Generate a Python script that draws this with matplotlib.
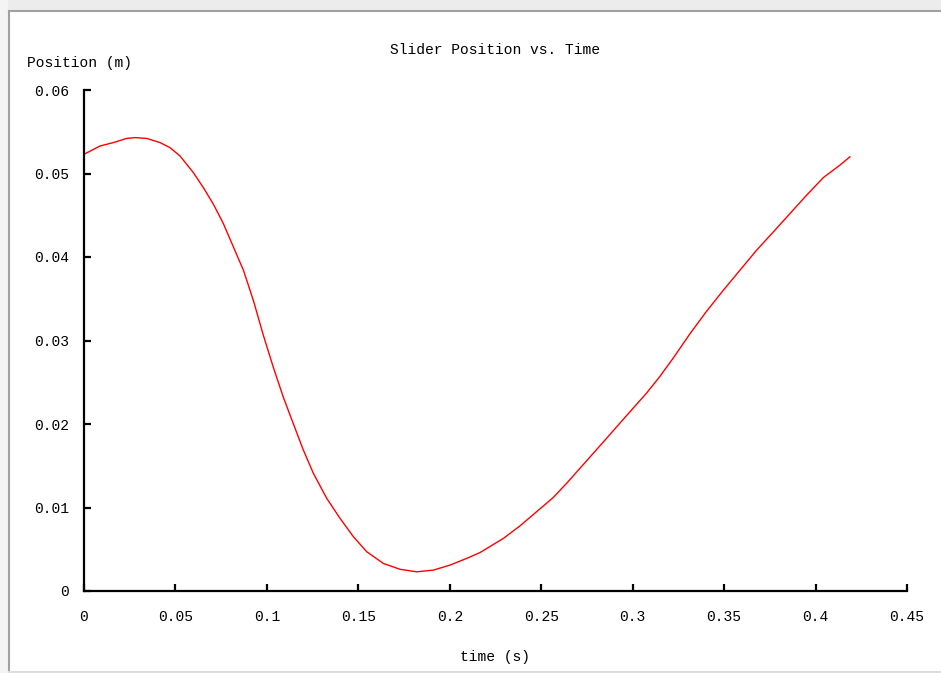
import matplotlib.pyplot as plt
from matplotlib.lines import Line2D
from matplotlib.patches import Rectangle

# slider position samples (s, m)
time_s = [0, 0.0088, 0.0160, 0.0233, 0.0279, 0.0343, 0.0416, 0.0470, 0.0525,
          0.0598, 0.0653, 0.0708, 0.0762, 0.0817, 0.0872, 0.0926, 0.0981,
          0.1035, 0.1090, 0.1145, 0.1199, 0.1254, 0.1327, 0.1400, 0.1473,
          0.1546, 0.1637, 0.1728, 0.1819, 0.1910, 0.2001, 0.2092, 0.2165,
          0.2293, 0.2384, 0.2475, 0.2566, 0.2639, 0.2712, 0.2785, 0.2858,
          0.2930, 0.3003, 0.3076, 0.3149, 0.3222, 0.3313, 0.3404, 0.3495,
          0.3586, 0.3677, 0.3769, 0.3860, 0.3951, 0.4042, 0.4133, 0.4188]
position_m = [0.0523, 0.0533, 0.0537, 0.0542, 0.0543, 0.0542, 0.0537, 0.0531,
              0.0521, 0.0501, 0.0483, 0.0463, 0.0440, 0.0412, 0.0384, 0.0348,
              0.0306, 0.0268, 0.0232, 0.0200, 0.0169, 0.0141, 0.0111, 0.0087,
              0.0065, 0.0047, 0.0033, 0.0026, 0.0023, 0.0025, 0.0031, 0.0039,
              0.0046, 0.0063, 0.0078, 0.0095, 0.0112, 0.0129, 0.0147, 0.0165,
              0.0183, 0.0201, 0.0219, 0.0237, 0.0257, 0.0279, 0.0308, 0.0335,
              0.0360, 0.0384, 0.0408, 0.0430, 0.0452, 0.0474, 0.0495, 0.0510,
              0.0520]

xticks = [0, 0.05, 0.1, 0.15, 0.2, 0.25, 0.3, 0.35, 0.4, 0.45]
xtick_labels = ["0", "0.05", "0.1", "0.15", "0.2", "0.25", "0.3", "0.35", "0.4", "0.45"]
yticks = [0, 0.01, 0.02, 0.03, 0.04, 0.05, 0.06]
ytick_labels = ["0", "0.01", "0.02", "0.03", "0.04", "0.05", "0.06"]

plt.rcParams["font.family"] = ["Liberation Mono", "DejaVu Sans Mono"]
W, H = 941, 673
fig = plt.figure(figsize=(W / 100, H / 100), dpi=100)
fig.patch.set_facecolor("white")

# window frame
fig.add_artist(Rectangle((0, 1 - 10 / H), 1, 10 / H, transform=fig.transFigure,
                         facecolor="#ececec", edgecolor="none"))
fig.add_artist(Rectangle((0, 0), 8 / W, 1, transform=fig.transFigure,
                         facecolor="#f4f4f4", edgecolor="none"))
fig.add_artist(Line2D([9 / W, 9 / W], [0, 1 - 11 / H], transform=fig.transFigure,
                      color="#a0a0a0", lw=1.5))
fig.add_artist(Line2D([9 / W, 1], [1 - 11 / H, 1 - 11 / H], transform=fig.transFigure,
                      color="#a0a0a0", lw=1.5))
fig.add_artist(Line2D([9 / W, 1], [1.5 / H, 1.5 / H], transform=fig.transFigure,
                      color="#dddddd", lw=1.5))

ax = fig.add_axes([84 / W, 1 - 591 / H, (907 - 84) / W, (591 - 90) / H])
ax.plot(time_s, position_m, color="red", lw=1.0)

ax.set_xlim(0, 0.45)
ax.set_ylim(0, 0.06)
ax.set_xticks(xticks)
ax.set_xticklabels(xtick_labels)
ax.set_yticks(yticks)
ax.set_yticklabels(ytick_labels)
for side in ["top", "right"]:
    ax.spines[side].set_visible(False)
for side in ["left", "bottom"]:
    ax.spines[side].set_linewidth(1.6)
ax.tick_params(direction="in", length=5, width=1.6, labelsize=10.5)
ax.tick_params(axis="x", pad=14)
ax.tick_params(axis="y", pad=11)

fig.text(495.5 / W, 1 - 50 / H, "Slider Position vs. Time", ha="center",
         va="center", fontsize=10.5)
fig.text(27 / W, 1 - 63 / H, "Position (m)", ha="left", va="center", fontsize=10.5)
fig.text(495.5 / W, 1 - 657 / H, "time (s)", ha="center", va="center", fontsize=10.5)

fig.savefig("out.png", dpi=100)
